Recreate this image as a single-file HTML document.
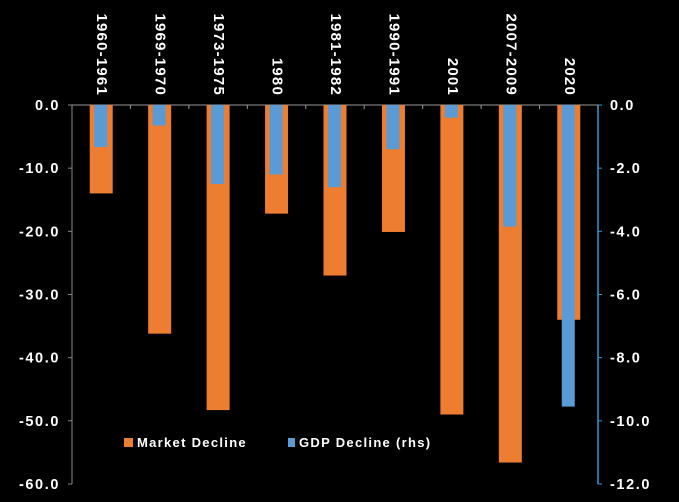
<!DOCTYPE html>
<html><head><meta charset="utf-8"><style>
html,body{margin:0;padding:0;background:#000;}
svg{display:block;font-family:"Liberation Sans",sans-serif;font-weight:bold;}
</style></head><body>
<svg id="chart" width="679" height="502"></svg>
<script>
const categories=["1960-1961","1969-1970","1973-1975","1980","1981-1982","1990-1991","2001","2007-2009","2020"];
const marketDecline=[-14,-36.2,-48.3,-17.2,-27,-20.1,-49,-56.6,-34];
const gdpDecline=[-1.33,-0.65,-2.5,-2.2,-2.6,-1.4,-0.4,-3.85,-9.55];
const leftTicks=[0,-10,-20,-30,-40,-50,-60];
const rightTicks=[0,-2,-4,-6,-8,-10,-12];
const svg=document.getElementById('chart');
const NS='http://www.w3.org/2000/svg';
const y0=105,y1=484,x0=72,x1=598;
const band=(x1-x0)/categories.length;
function yL(v){return y0+(0-v)/60*(y1-y0);}
function yR(v){return y0+(0-v)/12*(y1-y0);}
function xC(i){return x0+band*(i+0.5);}
function mk(t,a){const e=document.createElementNS(NS,t);for(const k in a)e.setAttribute(k,a[k]);svg.appendChild(e);return e;}
let e=mk('line',{x1:x0,y1:y0,x2:x0,y2:y1,stroke:'#888','stroke-width':1});


e=mk('line',{x1:x1,y1:y0,x2:x1,y2:y1,stroke:'#2a9ad6','stroke-width':1.5});


e=mk('line',{x1:x0,y1:y0,x2:x1+4,y2:y0,stroke:'#999','stroke-width':1});


leftTicks.forEach(v=>{
  const y=yL(v);
  mk('line',{x1:x0-4,y1:y,x2:x0,y2:y,stroke:'#888'});
  const t=mk('text',{x:x0-12,y:y+5,fill:'#fff','font-size':14.5,'letter-spacing':1.6,'text-anchor':'end'});
  t.textContent=v.toFixed(1);
  
  
});
rightTicks.forEach(v=>{
  const y=yR(v);
  mk('line',{x1:x1,y1:y,x2:x1+4,y2:y,stroke:'#2a9ad6'});
  const t=mk('text',{x:x1+12,y:y+5,fill:'#fff','font-size':14.5,'letter-spacing':1.6,'text-anchor':'start'});
  t.textContent=v.toFixed(1);
  
  
});
for(let i=0;i<=categories.length;i++){
  mk('line',{x1:x0+band*i,y1:y0,x2:x0+band*i,y2:y0+4,stroke:'#999'});
}
categories.forEach((c,i)=>{
  const cx=xC(i);
  const ob=mk('rect',{x:cx-11.5,y:y0,width:23,height:yL(marketDecline[i])-y0,fill:'#ed7d31'});
  
  
  const bb=mk('rect',{x:cx-7,y:y0,width:13,height:yR(gdpDecline[i])-y0,fill:'#5b9bd5'});
  
  
  const t=mk('text',{x:0,y:0,fill:'#fff','font-size':15,'letter-spacing':1.2,'text-anchor':'end',transform:`translate(${cx-4},96) rotate(90)`});
  t.textContent=c;
  
  
});
e=mk('rect',{x:124,y:438,width:9,height:9,fill:'#ed7d31'});


e=mk('text',{x:137,y:447,fill:'#fff','font-size':13,'letter-spacing':1.3});
e.textContent='Market Decline';


e=mk('rect',{x:288,y:438,width:7,height:9,fill:'#5b9bd5'});


e=mk('text',{x:299,y:447,fill:'#fff','font-size':13,'letter-spacing':1.3});
e.textContent='GDP Decline (rhs)';


</script>
</body></html>
